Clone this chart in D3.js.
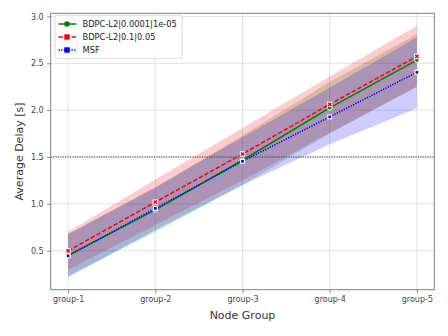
<!DOCTYPE html>
<html>
<head>
<meta charset="utf-8">
<script src="https://cdn.jsdelivr.net/npm/d3@7"></script>
<style>
  body { margin: 0; background: #fff; }
  svg { font-family: "DejaVu Sans", sans-serif; }
</style>
</head>
<body>
<svg width="448" height="336"></svg>
<script>
// data
var groups = ["group-1", "group-2", "group-3", "group-4", "group-5"];
var yTicks = [0.5, 1.0, 1.5, 2.0, 2.5, 3.0];

var greenMean = [0.45, 0.935, 1.465, 2.025, 2.535];
var greenLow  = [0.23, 0.70, 1.20, 1.75, 2.25];
var greenHigh = [0.678, 1.17, 1.73, 2.30, 2.81];

var redMean = [0.497, 1.018, 1.532, 2.062, 2.574];
var redLow  = [0.295, 0.775, 1.25, 1.76, 2.25];
var redHigh = [0.702, 1.26, 1.81, 2.36, 2.90];

var blueMean = [0.444, 0.951, 1.454, 1.928, 2.404];
var blueLow  = [0.217, 0.72, 1.20, 1.635, 2.02];
var blueHigh = [0.675, 1.18, 1.71, 2.24, 2.777];

var threshold = 1.5;

var series = [
  {name: "BDPC-L2|0.0001|1e-05", color: "green", mean: greenMean, low: greenLow, high: greenHigh, dash: null, marker: "circle"},
  {name: "BDPC-L2|0.1|0.05", color: "red", mean: redMean, low: redLow, high: redHigh, dash: "4.5,2", marker: "x"},
  {name: "MSF", color: "blue", mean: blueMean, low: blueLow, high: blueHigh, dash: "1.3,1.3", marker: "square"}
];

var svg = d3.select("svg");
var margin = {top: 13.3, right: 13.7, bottom: 46.3, left: 50.7};
var W = 448, H = 336;

var x = d3.scaleLinear().domain([-0.2, 4.2]).range([margin.left, W - margin.right]);
var y = d3.scaleLinear().domain([0.083, 3.034]).range([H - margin.bottom, margin.top]);

// grid
svg.append("g").selectAll("line").data(groups).join("line")
    .attr("x1", (d, i) => x(i)).attr("x2", (d, i) => x(i))
    .attr("y1", margin.top).attr("y2", H - margin.bottom)
    .attr("stroke", "#dcdcdc").attr("stroke-width", 0.8);
svg.append("g").selectAll("line").data(yTicks).join("line")
    .attr("x1", margin.left).attr("x2", W - margin.right)
    .attr("y1", d => y(d)).attr("y2", d => y(d))
    .attr("stroke", "#dcdcdc").attr("stroke-width", 0.8);

// bands
var area = d3.area()
    .x((d, i) => x(i))
    .y0(d => y(d[0]))
    .y1(d => y(d[1]));

series.forEach(function(s) {
  svg.append("path")
      .datum(s.low.map((v, i) => [v, s.high[i]]))
      .attr("d", area)
      .attr("fill", s.color)
      .attr("fill-opacity", 0.2);
});

// threshold line
svg.append("line")
    .attr("x1", margin.left).attr("x2", W - margin.right)
    .attr("y1", y(threshold)).attr("y2", y(threshold))
    .attr("stroke", "#444").attr("stroke-width", 1.2)
    .attr("stroke-dasharray", "1.2,1.2");

var line = d3.line().x((d, i) => x(i)).y(d => y(d));

function drawMarker(g, s, cx, cy) {
  if (s.marker == "circle") {
    g.append("circle").attr("cx", cx).attr("cy", cy).attr("r", 2.3)
        .attr("fill", s.color).attr("stroke", "white").attr("stroke-width", 1);
  } else if (s.marker == "square") {
    g.append("rect").attr("x", cx - 1.9).attr("y", cy - 1.9).attr("width", 3.8).attr("height", 3.8)
        .attr("fill", s.color).attr("stroke", "white").attr("stroke-width", 1.1);
  } else {
    g.append("rect").attr("x", cx - 2.7).attr("y", cy - 2.7).attr("width", 5.4).attr("height", 5.4)
        .attr("fill", "white");
    g.append("path").attr("d", d3.symbol().type(d3.symbolCross).size(11))
        .attr("transform", "translate(" + cx + "," + cy + ") rotate(45)")
        .attr("fill", s.color);
  }
}

series.forEach(function(s) {
  svg.append("path")
      .datum(s.mean)
      .attr("d", line)
      .attr("fill", "none")
      .attr("stroke", s.color)
      .attr("stroke-width", 1.5)
      .attr("stroke-dasharray", s.dash);
});
series.forEach(function(s) {
  var g = svg.append("g");
  s.mean.forEach((v, i) => drawMarker(g, s, x(i), y(v)));
});

// frame
svg.append("rect")
    .attr("x", margin.left).attr("y", margin.top)
    .attr("width", W - margin.left - margin.right)
    .attr("height", H - margin.top - margin.bottom)
    .attr("fill", "none").attr("stroke", "#808080").attr("stroke-width", 1);

// axes
var xAxis = svg.append("g")
    .attr("transform", "translate(0," + (H - margin.bottom) + ")")
    .call(d3.axisBottom(x).tickValues(d3.range(groups.length)).tickFormat(i => groups[i]).tickSize(3.5).tickPadding(3.5));
var yAxis = svg.append("g")
    .attr("transform", "translate(" + margin.left + ",0)")
    .call(d3.axisLeft(y).tickValues(yTicks).tickFormat(d3.format(".1f")).tickSize(3.5).tickPadding(3.5));
[xAxis, yAxis].forEach(function(a) {
  a.select(".domain").remove();
  a.selectAll(".tick line").attr("stroke", "#808080");
  a.selectAll(".tick text").attr("fill", "#444").attr("font-size", 8).attr("font-family", "DejaVu Sans");
});

svg.append("text")
    .attr("x", (margin.left + W - margin.right) / 2)
    .attr("y", 319)
    .attr("text-anchor", "middle")
    .attr("font-size", 11)
    .attr("fill", "#333")
    .text("Node Group");
svg.append("text")
    .attr("transform", "translate(23," + ((margin.top + H - margin.bottom) / 2) + ") rotate(-90)")
    .attr("text-anchor", "middle")
    .attr("font-size", 11)
    .attr("fill", "#333")
    .text("Average Delay [s]");

// legend
var lg = svg.append("g");
lg.append("rect")
    .attr("x", 55).attr("y", 15.3).attr("width", 127).attr("height", 43)
    .attr("rx", 2).attr("fill", "white").attr("fill-opacity", 0.85)
    .attr("stroke", "#d0d0d0").attr("stroke-width", 0.8);
series.forEach(function(s, i) {
  var ly = 24 + i * 13;
  lg.append("line")
      .attr("x1", 58.5).attr("x2", 76.5).attr("y1", ly).attr("y2", ly)
      .attr("stroke", s.color).attr("stroke-width", 1.5)
      .attr("stroke-dasharray", s.dash);
  var m = s.marker == "x" ? {marker: "square", color: s.color} : s;
  if (s.marker == "circle") {
    lg.append("circle").attr("cx", 67).attr("cy", ly).attr("r", 2.8).attr("fill", s.color);
  } else {
    lg.append("rect").attr("x", 64.3).attr("y", ly - 2.7).attr("width", 5.4).attr("height", 5.4).attr("fill", s.color);
  }
  lg.append("text")
      .attr("x", 82.5).attr("y", ly + 3)
      .attr("font-size", 8.3)
      .attr("fill", "#222")
      .text(s.name);
});
</script>
</body>
</html>
